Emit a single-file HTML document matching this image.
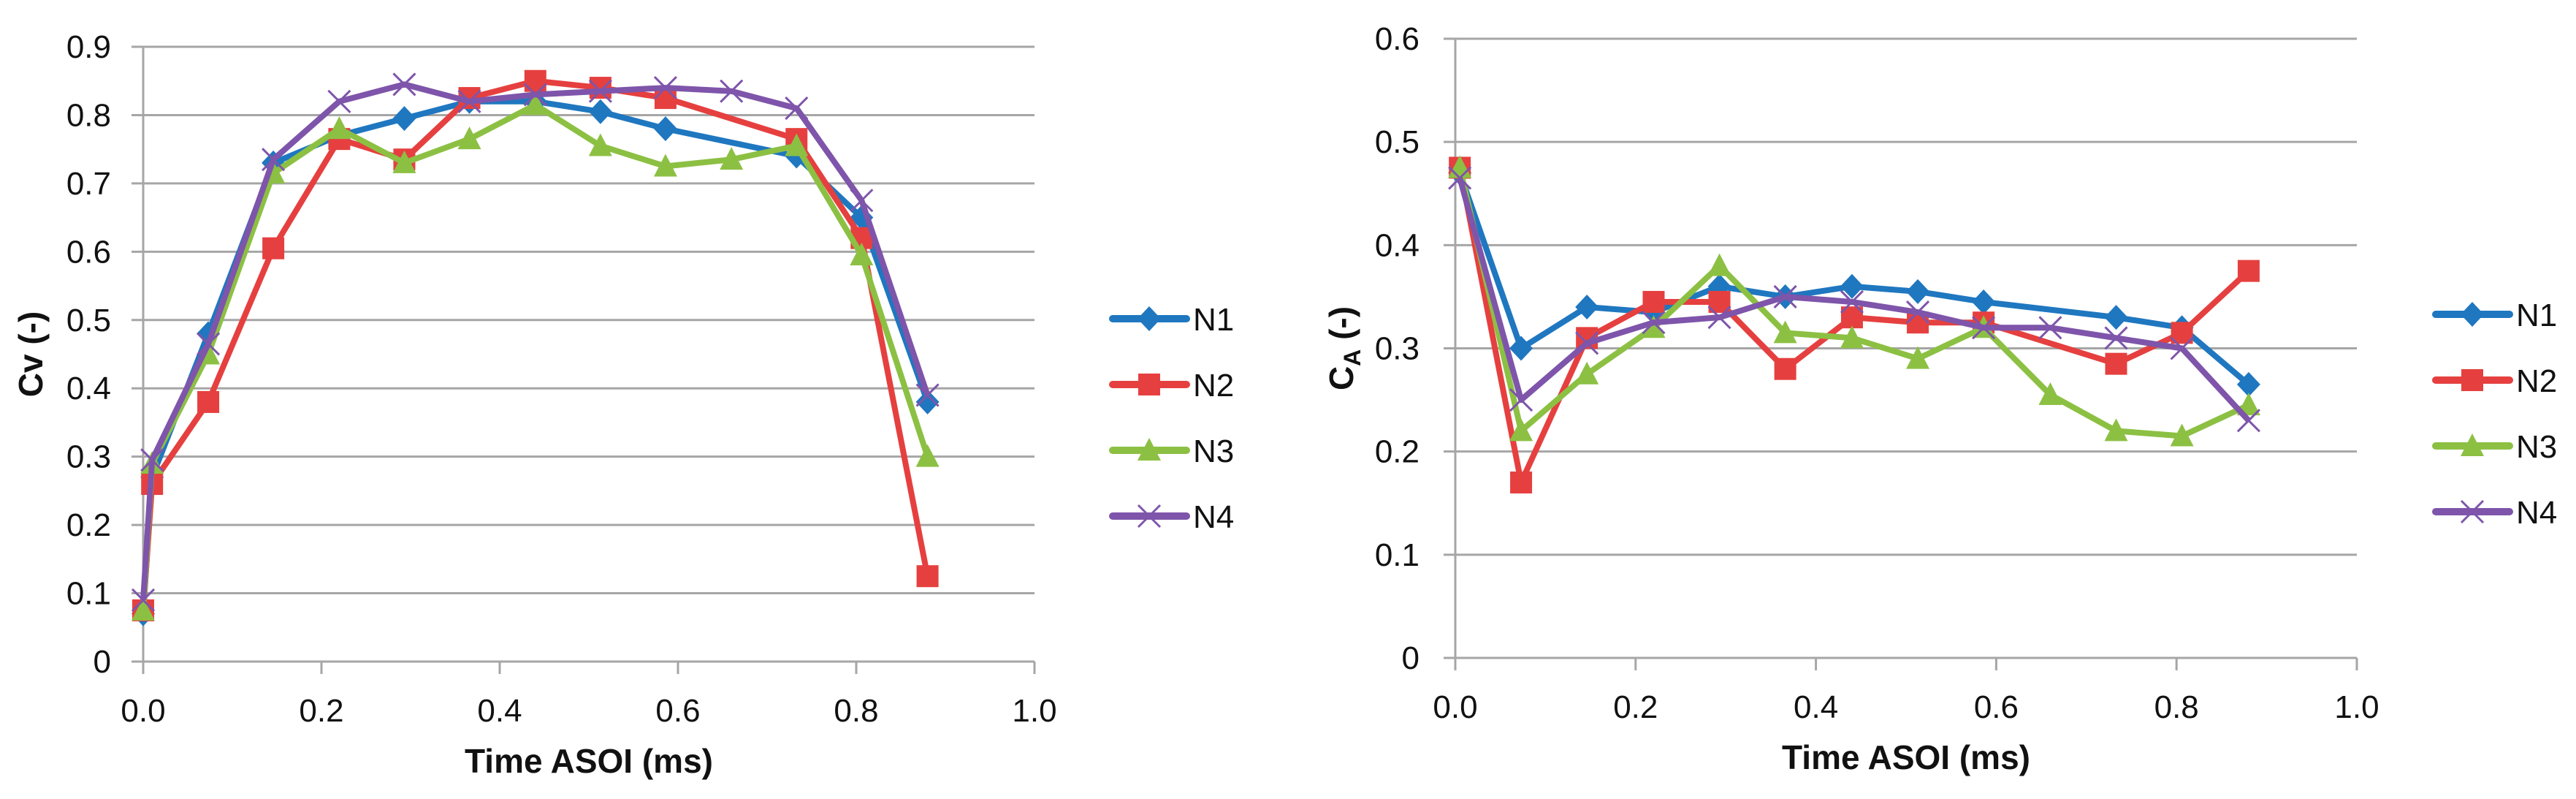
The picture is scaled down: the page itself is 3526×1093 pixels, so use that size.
<!DOCTYPE html>
<html><head><meta charset="utf-8"><style>
html,body{margin:0;padding:0;background:#fff;}
svg{display:block;}
text{font-family:"Liberation Sans",sans-serif;fill:#111;}
</style></head><body>
<svg id="svg" width="3526" height="1093" viewBox="0 0 3526 1093"></svg>
<script>
const seriesNames = ["N1","N2","N3","N4"];
const colors = ["#1f77c0","#e5403f","#8cc043","#7e55aa"];
const markers = ["diamond","square","triangle","x"];
const leftXTicks = [0,0.2,0.4,0.6,0.8,1.0];
const leftYTicks = [0,0.1,0.2,0.3,0.4,0.5,0.6,0.7,0.8,0.9];
const rightYTicks = [0,0.1,0.2,0.3,0.4,0.5,0.6];
const leftN1x = [0,0.01,0.073,0.146,0.22,0.293,0.366,0.44,0.513,0.586,0.733,0.806,0.88];
const leftN1y = [0.07,0.27,0.48,0.73,0.77,0.795,0.82,0.82,0.805,0.78,0.74,0.65,0.38];
const leftN2x = [0,0.01,0.073,0.146,0.22,0.293,0.366,0.44,0.513,0.586,0.733,0.806,0.88];
const leftN2y = [0.075,0.26,0.38,0.605,0.765,0.735,0.825,0.85,0.84,0.825,0.765,0.62,0.125];
const leftN3x = [0,0.01,0.073,0.146,0.22,0.293,0.366,0.44,0.513,0.586,0.66,0.733,0.806,0.88];
const leftN3y = [0.075,0.29,0.45,0.715,0.78,0.73,0.765,0.815,0.755,0.725,0.735,0.755,0.595,0.30];
const leftN4x = [0,0.01,0.073,0.146,0.22,0.293,0.366,0.44,0.513,0.586,0.66,0.733,0.806,0.88];
const leftN4y = [0.09,0.295,0.465,0.735,0.82,0.845,0.82,0.83,0.835,0.84,0.835,0.81,0.675,0.39];
const rightN1x = [0.005,0.073,0.146,0.22,0.293,0.366,0.44,0.513,0.586,0.733,0.806,0.88];
const rightN1y = [0.47,0.30,0.34,0.335,0.36,0.35,0.36,0.355,0.345,0.33,0.32,0.265];
const rightN2x = [0.005,0.073,0.146,0.22,0.293,0.366,0.44,0.513,0.586,0.733,0.806,0.88];
const rightN2y = [0.475,0.17,0.31,0.345,0.345,0.28,0.33,0.325,0.325,0.285,0.315,0.375];
const rightN3x = [0.005,0.073,0.146,0.22,0.293,0.366,0.44,0.513,0.586,0.66,0.733,0.806,0.88];
const rightN3y = [0.475,0.22,0.275,0.32,0.38,0.315,0.31,0.29,0.32,0.255,0.22,0.215,0.245];
const rightN4x = [0.005,0.073,0.146,0.22,0.293,0.366,0.44,0.513,0.586,0.66,0.733,0.806,0.88];
const rightN4y = [0.465,0.25,0.305,0.325,0.33,0.35,0.345,0.335,0.32,0.32,0.31,0.30,0.23];

const NS="http://www.w3.org/2000/svg";
const svg=document.getElementById('svg');
function mk(tag,attrs,parent){const e=document.createElementNS(NS,tag);for(const k in attrs)e.setAttribute(k,attrs[k]);(parent||svg).appendChild(e);return e;}

function marker(g,type,cx,cy,color){
  let e;
  if(type==="diamond"){e=mk('polygon',{points:`${cx},${cy-17} ${cx+16},${cy} ${cx},${cy+17} ${cx-16},${cy}`,fill:color},g);}
  else if(type==="square"){e=mk('rect',{x:cx-15,y:cy-15,width:30,height:30,fill:color},g);}
  else if(type==="triangle"){e=mk('polygon',{points:`${cx},${cy-17} ${cx+16},${cy+14} ${cx-16},${cy+14}`,fill:color},g);}
  else {e=mk('path',{d:`M${cx-15},${cy-15}L${cx+15},${cy+15}M${cx+15},${cy-15}L${cx-15},${cy+15}`,stroke:color,'stroke-width':3,fill:'none'},g);}
  return e;
}

function chart(cfg){
  const {id,x0,x1,yb,yt,ymax,yTicks,xs,ys,ylabelX,tickRight,yTitle,titleX,legX,legY}=cfg;
  const g=mk('g',{});
  
  
  const X=v=>x0+(x1-x0)*v/1.0;
  const Y=v=>yb-(yb-yt)*v/ymax;
  yTicks.forEach(t=>{
    const ln=mk('line',{x1:x0-16,x2:x1,y1:Y(t),y2:Y(t),stroke:'#a6a6a6','stroke-width':3},g);
    
    
    const tx=mk('text',{x:tickRight,y:Y(t)+15,'font-size':44,'text-anchor':'end'},g);
    tx.textContent=String(t);
    
    
  });
  const ax=mk('line',{x1:x0,x2:x0,y1:yt,y2:yb+17,stroke:'#a6a6a6','stroke-width':3},g);
  
  
  leftXTicks.forEach(t=>{
    const tk=mk('line',{x1:X(t),x2:X(t),y1:yb,y2:yb+17,stroke:'#a6a6a6','stroke-width':3},g);
    
    
    const tx=mk('text',{x:X(t),y:yb+82,'font-size':44,'text-anchor':'middle'},g);
    tx.textContent=t.toFixed(1);
    
    
  });
  const xt=mk('text',{x:(x0+x1)/2,y:yb+152,'font-size':46,'font-weight':'bold','text-anchor':'middle'},g);
  xt.textContent='Time ASOI (ms)';
  
  
  const yc=(yb+yt)/2;
  const ytl=mk('text',{x:titleX,y:yc,'font-size':46,'font-weight':'bold','text-anchor':'middle',transform:`rotate(-90 ${titleX} ${yc})`},g);
  
  
  if(yTitle==="CA"){ytl.innerHTML='C<tspan font-size="32" dy="10">A</tspan><tspan dy="-10"> (-)</tspan>';}
  else ytl.textContent='Cv (-)';
  for(let s=0;s<4;s++){
    const sg=mk('g',{},g);
    
    
    const pts=xs[s].map((v,i)=>X(v)+','+Y(ys[s][i])).join(' ');
    const pl=mk('polyline',{points:pts,fill:'none',stroke:colors[s],'stroke-width':8,'stroke-linejoin':'round'},sg);
    
    
    xs[s].forEach((v,i)=>{
      const m=marker(sg,markers[s],X(v),Y(ys[s][i]),colors[s]);
      
      
    });
    const lg=mk('g',{},g);
    
    
    const ly=legY+s*90;
    mk('line',{x1:legX,x2:legX+101,y1:ly,y2:ly,stroke:colors[s],'stroke-width':10,'stroke-linecap':'round'},lg);
    marker(lg,markers[s],legX+50,ly,colors[s]);
    const lt=mk('text',{x:legX+110,y:ly+16,'font-size':44},lg);
    lt.textContent=seriesNames[s];
  }
}
chart({id:'cv-chart',x0:196,x1:1416,yb:905,yt:64,ymax:0.9,yTicks:leftYTicks,
  xs:[leftN1x,leftN2x,leftN3x,leftN4x],ys:[leftN1y,leftN2y,leftN3y,leftN4y],
  tickRight:152,yTitle:'Cv',titleX:58,legX:1523,legY:436});
chart({id:'ca-chart',x0:1992,x1:3226,yb:900,yt:53,ymax:0.6,yTicks:rightYTicks,
  xs:[rightN1x,rightN2x,rightN3x,rightN4x],ys:[rightN1y,rightN2y,rightN3y,rightN4y],
  tickRight:1943,yTitle:'CA',titleX:1852,legX:3334,legY:430});
</script>
</body></html>
